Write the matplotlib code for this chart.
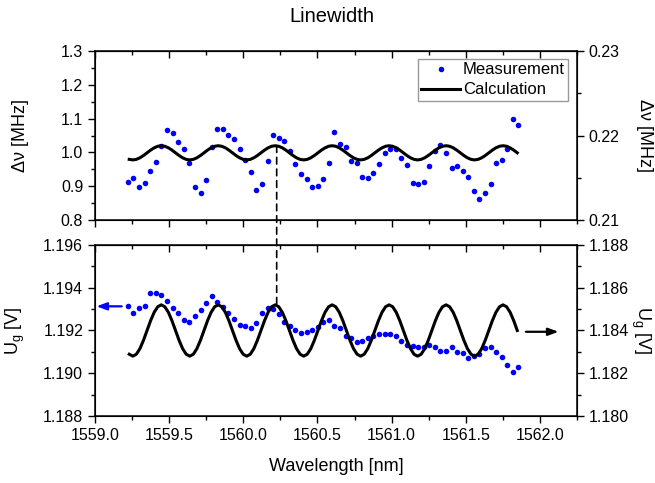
import matplotlib
matplotlib.use('Agg')
import matplotlib.pyplot as plt
from matplotlib.ticker import MultipleLocator, FormatStrFormatter
from matplotlib.patches import ConnectionPatch

plt.rcParams['font.family'] = ['Liberation Sans', 'DejaVu Sans']
plt.rcParams['mathtext.fontset'] = 'custom'
plt.rcParams['mathtext.rm'] = 'Liberation Sans'
plt.rcParams['mathtext.it'] = 'Liberation Sans'

# ? measured points (same wavelength grid for both panels)
wavelength = [
    1559.220, 1559.258, 1559.299, 1559.335, 1559.373, 1559.409, 1559.447, 1559.486,
    1559.524, 1559.562, 1559.600, 1559.636, 1559.674, 1559.713, 1559.748, 1559.787,
    1559.823, 1559.861, 1559.899, 1559.937, 1559.976, 1560.011, 1560.050, 1560.088,
    1560.126, 1560.165, 1560.200, 1560.239, 1560.277, 1560.315, 1560.351, 1560.389,
    1560.428, 1560.463, 1560.502, 1560.539, 1560.576, 1560.614, 1560.650, 1560.690,
    1560.726, 1560.765, 1560.802, 1560.841, 1560.877, 1560.915, 1560.953, 1560.991,
    1561.028, 1561.065, 1561.104, 1561.142, 1561.178, 1561.216, 1561.254, 1561.291,
    1561.328, 1561.367, 1561.405, 1561.441, 1561.479, 1561.517, 1561.554, 1561.591,
    1561.630, 1561.668, 1561.704, 1561.742, 1561.780, 1561.817, 1561.854,
]
linewidth_meas = [
    0.914, 0.924, 0.897, 0.910, 0.945, 0.972, 1.019, 1.067, 1.058, 1.032, 1.010, 0.968,
    0.897, 0.880, 0.919, 1.017, 1.070, 1.070, 1.052, 1.039, 1.010, 0.978, 0.943, 0.890,
    0.907, 0.975, 1.051, 1.044, 1.034, 1.003, 0.966, 0.937, 0.922, 0.897, 0.900, 0.920,
    0.968, 1.061, 1.025, 1.017, 0.975, 0.970, 0.927, 0.924, 0.940, 0.967, 0.997, 1.009,
    1.009, 0.984, 0.962, 0.910, 0.908, 0.914, 0.960, 1.005, 1.021, 0.997, 0.955, 0.960,
    0.945, 0.927, 0.887, 0.861, 0.880, 0.907, 0.969, 0.978, 1.011, 1.099, 1.081,
]
ug_meas = [
    1.19313, 1.19282, 1.19305, 1.19313, 1.19375, 1.19375, 1.19365, 1.19339, 1.19304,
    1.19282, 1.19248, 1.19240, 1.19268, 1.19296, 1.19329, 1.19360, 1.19333, 1.19309,
    1.19280, 1.19252, 1.19227, 1.19221, 1.19210, 1.19235, 1.19282, 1.19307, 1.19299,
    1.19276, 1.19238, 1.19222, 1.19204, 1.19190, 1.19192, 1.19204, 1.19215, 1.19238,
    1.19249, 1.19222, 1.19213, 1.19174, 1.19166, 1.19145, 1.19151, 1.19163, 1.19176,
    1.19182, 1.19184, 1.19184, 1.19173, 1.19149, 1.19131, 1.19126, 1.19124, 1.19124,
    1.19134, 1.19121, 1.19104, 1.19104, 1.19124, 1.19101, 1.19095, 1.19073, 1.19082,
    1.19090, 1.19120, 1.19121, 1.19098, 1.19075, 1.19040, 1.19007, 1.19031,
]

# ? calculated curves
wavelength_calc = [
    1559.231, 1559.255, 1559.279, 1559.303, 1559.327, 1559.351, 1559.375, 1559.399,
    1559.423, 1559.447, 1559.471, 1559.495, 1559.519, 1559.543, 1559.567, 1559.591,
    1559.615, 1559.639, 1559.663, 1559.687, 1559.711, 1559.735, 1559.759, 1559.783,
    1559.807, 1559.831, 1559.855, 1559.879, 1559.903, 1559.927, 1559.951, 1559.975,
    1559.999, 1560.023, 1560.047, 1560.071, 1560.095, 1560.119, 1560.143, 1560.167,
    1560.191, 1560.215, 1560.239, 1560.263, 1560.287, 1560.311, 1560.335, 1560.359,
    1560.383, 1560.407, 1560.431, 1560.455, 1560.479, 1560.503, 1560.527, 1560.551,
    1560.575, 1560.599, 1560.623, 1560.647, 1560.671, 1560.695, 1560.719, 1560.743,
    1560.767, 1560.791, 1560.815, 1560.839, 1560.863, 1560.887, 1560.911, 1560.935,
    1560.959, 1560.983, 1561.007, 1561.031, 1561.055, 1561.079, 1561.103, 1561.127,
    1561.151, 1561.175, 1561.199, 1561.223, 1561.247, 1561.271, 1561.295, 1561.319,
    1561.343, 1561.367, 1561.391, 1561.415, 1561.439, 1561.463, 1561.487, 1561.511,
    1561.535, 1561.559, 1561.583, 1561.607, 1561.631, 1561.655, 1561.679, 1561.703,
    1561.727, 1561.751, 1561.775, 1561.799, 1561.823, 1561.847,
]
linewidth_calc = [
    0.9796, 0.978, 0.9796, 0.9842, 0.991, 0.999, 1.007, 1.0138, 1.0184, 1.020, 1.0184, 1.0138, 1.007, 0.999, 0.991, 0.9842,
    0.9796, 0.978, 0.9796, 0.9842, 0.991, 0.999, 1.007, 1.0138, 1.0184, 1.020, 1.0184, 1.0138, 1.007, 0.999, 0.991, 0.9842,
    0.9796, 0.978, 0.9796, 0.9842, 0.991, 0.999, 1.007, 1.0138, 1.0184, 1.020, 1.0184, 1.0138, 1.007, 0.999, 0.991, 0.9842,
    0.9796, 0.978, 0.9796, 0.9842, 0.991, 0.999, 1.007, 1.0138, 1.0184, 1.020, 1.0184, 1.0138, 1.007, 0.999, 0.991, 0.9842,
    0.9796, 0.978, 0.9796, 0.9842, 0.991, 0.999, 1.007, 1.0138, 1.0184, 1.020, 1.0184, 1.0138, 1.007, 0.999, 0.991, 0.9842,
    0.9796, 0.978, 0.9796, 0.9842, 0.991, 0.999, 1.007, 1.0138, 1.0184, 1.020, 1.0184, 1.0138, 1.007, 0.999, 0.991, 0.9842,
    0.9796, 0.978, 0.9796, 0.9842, 0.991, 0.999, 1.007, 1.0138, 1.0184, 1.020, 1.0184, 1.0138, 1.007, 0.999,
]
ug_calc = [
    1.18289, 1.1828, 1.18289, 1.18315, 1.18354, 1.1840, 1.18446, 1.18485, 1.18511, 1.1852, 1.18511, 1.18485, 1.18446, 1.1840, 1.18354, 1.18315,
    1.18289, 1.1828, 1.18289, 1.18315, 1.18354, 1.1840, 1.18446, 1.18485, 1.18511, 1.1852, 1.18511, 1.18485, 1.18446, 1.1840, 1.18354, 1.18315,
    1.18289, 1.1828, 1.18289, 1.18315, 1.18354, 1.1840, 1.18446, 1.18485, 1.18511, 1.1852, 1.18511, 1.18485, 1.18446, 1.1840, 1.18354, 1.18315,
    1.18289, 1.1828, 1.18289, 1.18315, 1.18354, 1.1840, 1.18446, 1.18485, 1.18511, 1.1852, 1.18511, 1.18485, 1.18446, 1.1840, 1.18354, 1.18315,
    1.18289, 1.1828, 1.18289, 1.18315, 1.18354, 1.1840, 1.18446, 1.18485, 1.18511, 1.1852, 1.18511, 1.18485, 1.18446, 1.1840, 1.18354, 1.18315,
    1.18289, 1.1828, 1.18289, 1.18315, 1.18354, 1.1840, 1.18446, 1.18485, 1.18511, 1.1852, 1.18511, 1.18485, 1.18446, 1.1840, 1.18354, 1.18315,
    1.18289, 1.1828, 1.18289, 1.18315, 1.18354, 1.1840, 1.18446, 1.18485, 1.18511, 1.1852, 1.18511, 1.18485, 1.18446, 1.1840,
]

marker_wl = 1560.225  # dashed guide between panels

TICK_FS = 11.5
LABEL_FS = 13


def style_axes(ax):
    ax.set_xlim(1559.0, 1562.25)
    ax.xaxis.set_major_locator(MultipleLocator(0.5))
    ax.xaxis.set_minor_locator(MultipleLocator(0.25))
    ax.tick_params(axis='both', which='major', direction='out', length=5, width=1,
                   labelsize=TICK_FS)
    ax.tick_params(axis='both', which='minor', direction='out', length=3, width=1)
    # ticks on the top spine point inward
    sec = ax.secondary_xaxis('top')
    sec.xaxis.set_major_locator(MultipleLocator(0.5))
    sec.xaxis.set_minor_locator(MultipleLocator(0.25))
    sec.tick_params(which='major', direction='in', length=5, width=1, labeltop=False)
    sec.tick_params(which='minor', direction='in', length=3, width=1)
    for s in ax.spines.values():
        s.set_linewidth(1.1)


def style_right(ax, step, minor, fmt):
    ax.yaxis.set_major_locator(MultipleLocator(step))
    ax.yaxis.set_minor_locator(MultipleLocator(minor))
    ax.yaxis.set_major_formatter(FormatStrFormatter(fmt))
    ax.tick_params(which='major', direction='out', length=5, width=1, labelsize=TICK_FS)
    ax.tick_params(which='minor', direction='out', length=3, width=1)


fig = plt.figure(figsize=(6.55, 4.83), dpi=100)
ax1 = fig.add_axes([0.145, 0.5445, 0.736, 0.3495])
ax2 = fig.add_axes([0.145, 0.1387, 0.736, 0.3541])

# ? top panel: linewidth
ax1.plot(wavelength, linewidth_meas, 'o', color='#0000ff', markersize=4,
         markeredgewidth=0, label='Measurement')
ax1.plot(wavelength_calc, linewidth_calc, color='black', linewidth=2.2,
         label='Calculation')
ax1.set_ylim(0.8, 1.3)
ax1.yaxis.set_major_locator(MultipleLocator(0.1))
ax1.yaxis.set_minor_locator(MultipleLocator(0.05))
ax1.yaxis.set_major_formatter(FormatStrFormatter('%.1f'))
style_axes(ax1)
ax1.tick_params(axis='x', labelbottom=False)
ax1.set_ylabel('Δν [MHz]', fontsize=LABEL_FS, va='center')
ax1.yaxis.set_label_coords(-0.154, 0.5)

ax1r = ax1.twinx()
ax1r.set_ylim(0.21, 0.23)
style_right(ax1r, 0.01, 0.005, '%.2f')
ax1r.set_ylabel('Δν [MHz]', fontsize=LABEL_FS, rotation=270, va='center')
ax1r.yaxis.set_label_coords(1.140, 0.5)

leg = ax1.legend(loc='upper right', bbox_to_anchor=(0.982, 0.953), borderaxespad=0,
                 fontsize=12, numpoints=1, handlelength=2.3, handletextpad=0.2,
                 labelspacing=0.3, borderpad=0.2, fancybox=False, framealpha=1)
leg.get_frame().set_edgecolor('#999999')
leg.get_frame().set_linewidth(1)

# ? bottom panel: gain voltage
ax2.plot(wavelength, ug_meas, 'o', color='#0000ff', markersize=4, markeredgewidth=0)
ax2.set_ylim(1.188, 1.196)
ax2.yaxis.set_major_locator(MultipleLocator(0.002))
ax2.yaxis.set_minor_locator(MultipleLocator(0.001))
ax2.yaxis.set_major_formatter(FormatStrFormatter('%.3f'))
style_axes(ax2)
ax2.xaxis.set_major_formatter(FormatStrFormatter('%.1f'))
ax2.set_ylabel(r'U$_\mathrm{g}$ [V]', fontsize=LABEL_FS, va='center')
ax2.yaxis.set_label_coords(-0.165, 0.5)
ax2.set_xlabel('Wavelength [nm]', fontsize=LABEL_FS, labelpad=11)

ax2r = ax2.twinx()
ax2r.plot(wavelength_calc, ug_calc, color='black', linewidth=2.2)
ax2r.set_ylim(1.180, 1.188)
style_right(ax2r, 0.002, 0.001, '%.3f')
ax2r.set_ylabel(r'U$_\mathrm{g}$ [V]', fontsize=LABEL_FS, rotation=270, va='center')
ax2r.yaxis.set_label_coords(1.131, 0.5)

# arrows telling which axis each series belongs to
ax2.annotate('', xy=(1559.01, 1.19313), xytext=(1559.18, 1.19313),
             arrowprops=dict(arrowstyle='-|>,head_length=0.6,head_width=0.22',
                             color='#0000ff', lw=1.6, shrinkA=0, shrinkB=0))
ax2r.annotate('', xy=(1562.125, 1.18394), xytext=(1561.905, 1.18394),
              arrowprops=dict(arrowstyle='-|>,head_length=0.6,head_width=0.22',
                              color='black', lw=1.6, shrinkA=0, shrinkB=0))

# dashed line linking the peaks in both panels
con = ConnectionPatch(xyA=(marker_wl, 1.02), coordsA=ax1.transData,
                      xyB=(marker_wl, 1.1852), coordsB=ax2r.transData,
                      color='black', linestyle=(0, (4, 3)), linewidth=1.2)
fig.add_artist(con)

fig.suptitle('Linewidth', fontsize=14.5, x=0.507, y=0.985)

plt.savefig('out.png', dpi=100)
